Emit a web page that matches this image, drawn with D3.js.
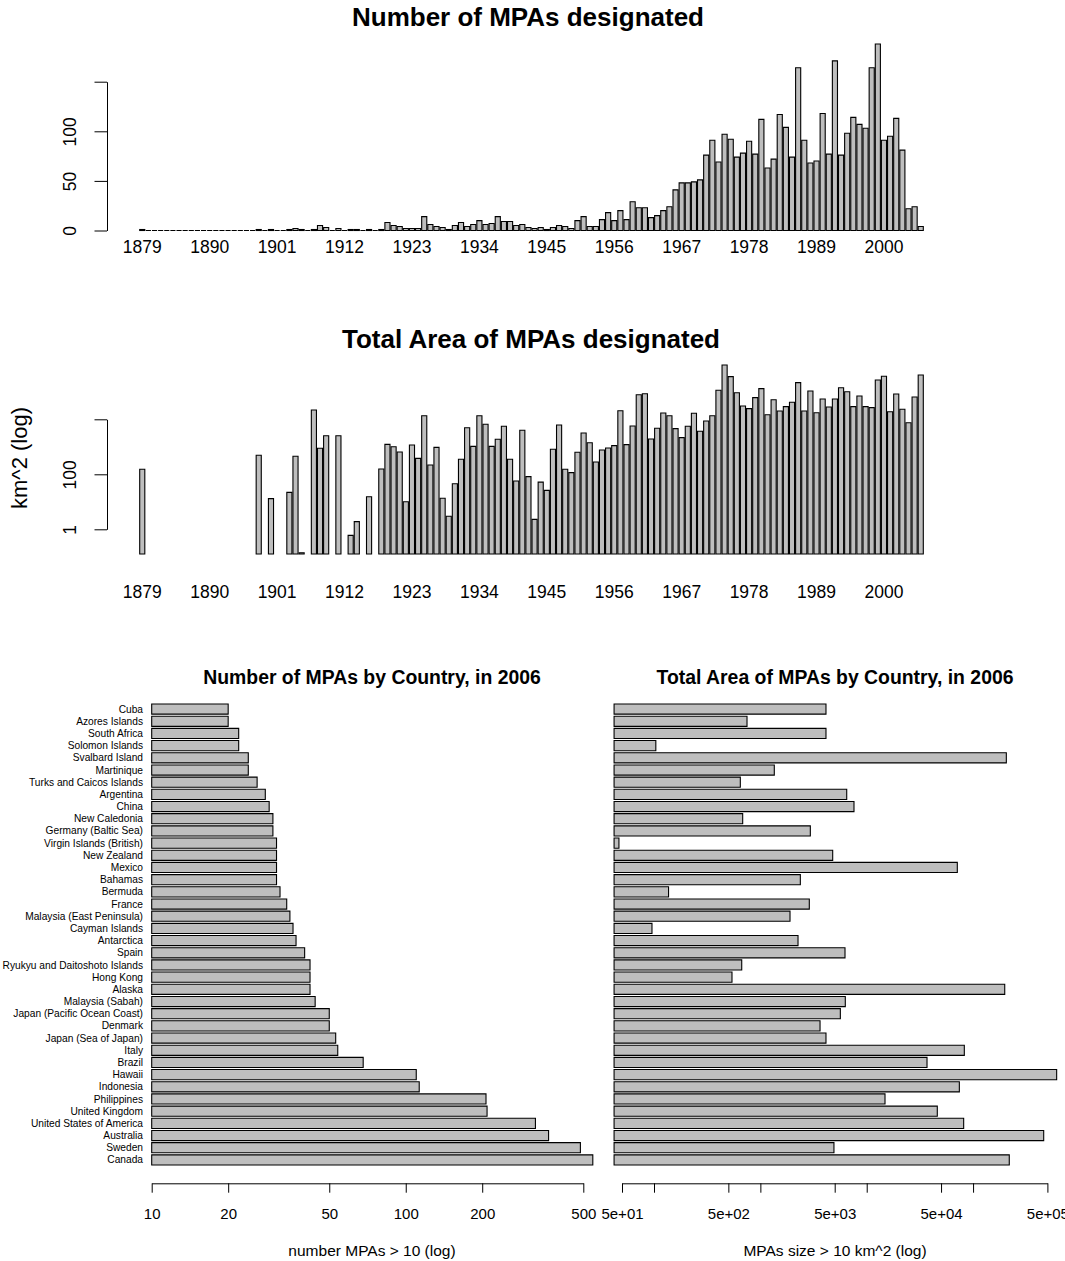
<!DOCTYPE html>
<html>
<head>
<meta charset="utf-8">
<script src="https://cdn.jsdelivr.net/npm/d3@7"></script>
<style>
  body { margin: 0; background: #fff; }
  svg text { font-family: "Liberation Sans", Arial, Helvetica, sans-serif; fill: #000; }
</style>
</head>
<body>
<svg id="chart" width="1065" height="1261"></svg>
<script>
// ---- data -------------------------------------------------------------
const years = [
  1879,1880,1881,1882,1883,1884,1885,1886,1887,1888,1889,1890,1891,1892,1893,1894,
  1895,1896,1897,1898,1899,1900,1901,1902,1903,1904,1905,1906,1907,1908,1909,1910,
  1911,1912,1913,1914,1915,1916,1917,1918,1919,1920,1921,1922,1923,1924,1925,1926,
  1927,1928,1929,1930,1931,1932,1933,1934,1935,1936,1937,1938,1939,1940,1941,1942,
  1943,1944,1945,1946,1947,1948,1949,1950,1951,1952,1953,1954,1955,1956,1957,1958,
  1959,1960,1961,1962,1963,1964,1965,1966,1967,1968,1969,1970,1971,1972,1973,1974,
  1975,1976,1977,1978,1979,1980,1981,1982,1983,1984,1985,1986,1987,1988,1989,1990,
  1991,1992,1993,1994,1995,1996,1997,1998,1999,2000,2001,2002,2003,2004,2005,2006
];
const yearTickLabels = [1879,1890,1901,1912,1923,1934,1945,1956,1967,1978,1989,2000];

// number of MPAs designated per year
const mpaCount = [
  1,0,0,0,0,0,0,0,0,0,0,0,0,0,0,0,
  0,0,0,1,0,1,0,0,1,2,1,0,1,5,3,0,
  2,0,1,1,0,1,0,1,8,5,4,2,2,2,14,6,
  4,3,1,5,8,4,6,10,6,7,14,9,9,5,6,3,
  2,3,1,3,5,4,2,10,14,4,4,11,18,10,20,11,
  29,23,23,13,15,20,24,41,48,48,49,51,76,91,69,97,
  92,74,78,90,77,112,63,72,117,104,74,164,91,68,70,118,
  77,171,76,98,114,107,103,164,188,91,95,113,81,22,24,4
];

// total area (km^2) designated per year; null = nothing designated
const mpaArea = [
  152,null,null,null,null,null,null,null,null,null,null,null,null,null,null,null,
  null,null,null,490,null,13,null,null,22,452,0.14,null,21800,882,2535,null,
  2535,null,0.6,1.9,null,15.3,null,156,1230,1010,647,10,1160,380,13500,218,
  955,13.4,3,45.6,351,4950,1040,13500,6580,1040,1875,5560,351,57,3980,82,
  2.3,52,26,811,6200,152,115,630,3170,1410,280,765,904,1100,20550,1195,
  5700,78500,85300,1920,4700,16900,13500,4570,2150,5560,16500,3660,8670,13500,113500,944000,
  355000,92900,30500,24400,61200,130000,14700,51600,20000,28800,41500,215000,20000,107000,17400,54700,
  28000,54700,141000,101000,28800,70300,28800,26500,269000,366000,18900,83200,23100,7530,64700,408000
];

const countries = [
  "Cuba","Azores Islands","South Africa","Solomon Islands","Svalbard Island","Martinique",
  "Turks and Caicos Islands","Argentina","China","New Caledonia","Germany (Baltic Sea)",
  "Virgin Islands (British)","New Zealand","Mexico","Bahamas","Bermuda","France",
  "Malaysia (East Peninsula)","Cayman Islands","Antarctica","Spain","Ryukyu and Daitoshoto Islands",
  "Hong Kong","Alaska","Malaysia (Sabah)","Japan (Pacific Ocean Coast)","Denmark",
  "Japan (Sea of Japan)","Italy","Brazil","Hawaii","Indonesia","Philippines","United Kingdom",
  "United States of America","Australia","Sweden","Canada"
];
const countryCount = [
  20,20,22,22,24,24,26,28,29,30,30,31,31,31,31,32,34,35,36,37,40,42,42,42,44,50,50,53,54,68,
  110,113,207,209,324,365,487,545
];
const countryArea = [
  4140,749,4140,104,205500,1352,648,6486,7592,682,2950,46.8,4788,71100,2376,137,2885,1900,
  95.7,2260,6250,668,541,198500,6290,5650,3640,4140,82750,36900,611000,74300,14860,46100,
  81600,461500,4920,219000
];

const countTicks = [10,20,50,100,200,500];
const areaTicks = [50,100,500,1000,5000,10000,50000,100000,500000];
const areaTickLabels = ["5e+01","","5e+02","","5e+03","","5e+04","","5e+05"];

// ---- drawing ----------------------------------------------------------
const svg = d3.select("#chart");
const FILL = "#bebebe";

function barPath(x0, x1, y0, y1) {
  // closed outline; a zero-height bar collapses to a stroked line
  return `M${x0},${y0}V${y1}H${x1}V${y0}Z`;
}

function title(txt, x, y, size) {
  svg.append("text").attr("x", x).attr("y", y).attr("text-anchor", "middle")
    .attr("font-weight", "bold").attr("font-size", size).text(txt);
}

// shared year positions for the two time panels
const xYear = d3.scaleBand().domain(years).range([139.7, 923.3])
  .paddingInner(0.2 / 1.2).paddingOuter(0);

function yearAxis(y) {
  const g = svg.append("g").attr("font-size", 17.5);
  g.selectAll("text").data(yearTickLabels).join("text")
    .attr("x", d => xYear(d) + xYear.bandwidth() / 2)
    .attr("y", y).attr("text-anchor", "middle").text(d => d);
}

function leftAxis(scale, ticks, labels, x) {
  const ax = d3.axisLeft(scale).tickValues(ticks).tickSize(12.5).tickSizeOuter(0)
    .tickFormat((d, i) => labels[i]);
  const g = svg.append("g").attr("transform", `translate(${x},0)`).call(ax);
  g.select(".domain").attr("stroke", "#000");
  g.selectAll(".tick line").attr("stroke", "#000");
  g.selectAll(".tick text")
    .attr("x", null).attr("dy", null).attr("y", null)
    .attr("text-anchor", "middle").attr("font-size", 17.5)
    .attr("font-family", null)
    .attr("transform", "translate(-31,0) rotate(-90)");
}

// --- panel 1: number of MPAs per year
title("Number of MPAs designated", 528, 26, 26);
const yCount = d3.scaleLinear().domain([0, 150]).range([230.5, 81.7]);
svg.append("g").selectAll("path").data(years).join("path")
  .attr("d", (yr, i) => barPath(xYear(yr), xYear(yr) + xYear.bandwidth(),
                                 yCount(0), yCount(mpaCount[i])))
  .attr("fill", FILL).attr("stroke", "#000").attr("stroke-width", 1.1);
leftAxis(yCount, [0, 50, 100, 150], ["0", "50", "100", ""], 107);
yearAxis(253);

// --- panel 2: total area per year (log)
title("Total Area of MPAs designated", 531, 348, 26);
const yArea = d3.scaleLog().domain([1, 10000]).range([529.3, 419.3]);
const areaBase = 0.9 * d3.min(mpaArea.filter(v => v != null));
const areaBars = years.map((yr, i) => ({ yr, v: mpaArea[i] })).filter(d => d.v != null);
svg.append("g").selectAll("path").data(areaBars).join("path")
  .attr("d", d => barPath(xYear(d.yr), xYear(d.yr) + xYear.bandwidth(),
                          yArea(areaBase), yArea(d.v)))
  .attr("fill", FILL).attr("stroke", "#000").attr("stroke-width", 1.1);
leftAxis(yArea, [1, 100, 10000], ["1", "100", ""], 107);
yearAxis(598);
svg.append("text").attr("transform", "translate(27,458) rotate(-90)")
  .attr("text-anchor", "middle").attr("font-size", 22).text("km^2 (log)");

// --- panels 3 & 4: by country (horizontal, log)
const yCountry = d3.scaleBand().domain(countries).range([704, 1165])
  .paddingInner(1 / 6).paddingOuter(0);

function bottomAxis(scale, ticks, labels) {
  const ax = d3.axisBottom(scale).tickValues(ticks).tickSize(9.4).tickSizeOuter(0)
    .tickFormat((d, i) => labels[i]);
  const g = svg.append("g").attr("transform", "translate(0,1183.3)").call(ax);
  g.select(".domain").attr("stroke", "#000");
  g.selectAll(".tick line").attr("stroke", "#000");
  g.selectAll(".tick text").attr("y", 30).attr("dy", "0.35em")
    .attr("font-size", 15).attr("font-family", null);
}

// left: number of MPAs
title("Number of MPAs by Country, in 2006", 372, 684, 19.4);
const xCnt = d3.scaleLog().domain([10, 500]).range([151.7, 583.3]);
svg.append("g").selectAll("path").data(countries).join("path")
  .attr("d", (c, i) => barPath(xCnt(10), xCnt(countryCount[i]),
                               yCountry(c) + yCountry.bandwidth(), yCountry(c)))
  .attr("fill", FILL).attr("stroke", "#000").attr("stroke-width", 1.1);
svg.append("g").attr("font-size", 10.2).selectAll("text").data(countries).join("text")
  .attr("x", 143).attr("y", c => yCountry(c) + yCountry.bandwidth() / 2)
  .attr("dy", "0.35em").attr("text-anchor", "end").text(c => c);
bottomAxis(xCnt, countTicks, countTicks.map(String));
svg.append("text").attr("x", 372).attr("y", 1256).attr("text-anchor", "middle")
  .attr("font-size", 15.5).text("number MPAs > 10 (log)");

// right: total area
title("Total Area of MPAs by Country, in 2006", 835, 684, 19.4);
const xAr = d3.scaleLog().domain([50, 500000]).range([622, 1047.4]);
const ctyBase = 0.9 * d3.min(countryArea);
svg.append("g").selectAll("path").data(countries).join("path")
  .attr("d", (c, i) => barPath(xAr(ctyBase), xAr(countryArea[i]),
                               yCountry(c) + yCountry.bandwidth(), yCountry(c)))
  .attr("fill", FILL).attr("stroke", "#000").attr("stroke-width", 1.1);
bottomAxis(xAr, areaTicks, areaTickLabels);
svg.append("text").attr("x", 835).attr("y", 1256).attr("text-anchor", "middle")
  .attr("font-size", 15.5).text("MPAs size > 10 km^2 (log)");
</script>
</body>
</html>
